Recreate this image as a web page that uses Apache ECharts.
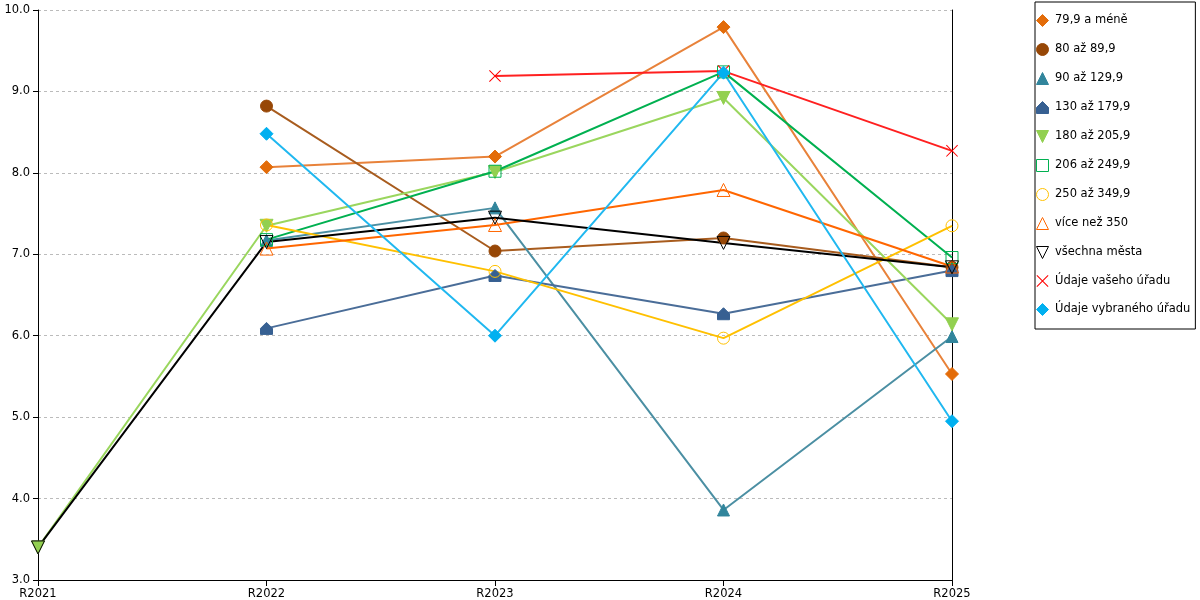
<!DOCTYPE html>
<html>
<head>
<meta charset="utf-8">
<script src="https://cdn.jsdelivr.net/npm/echarts@6/dist/echarts.min.js"></script>
<style>
    html, body {margin: 0; padding: 0; background: #fff;}
    #main {width: 1200px; height: 600px;}
</style>
</head>
<body>
<div id="main"></div>
<script>
// kategorie na ose x
const roky = ['R2021', 'R2022', 'R2023', 'R2024', 'R2025'];

// hodnoty jednotlivých skupin
const s799 = [null, 8.07, 8.20, 9.79, 5.53];
const s80 = [null, 8.82, 7.04, 7.20, 6.84];
const s90 = [null, 7.17, 7.57, 3.86, 5.99];
const s130 = [null, 6.09, 6.74, 6.27, 6.80];
const s180 = [3.40, 7.35, 8.01, 8.92, 6.14];
const s206 = [null, 7.18, 8.02, 9.24, 6.96];
const s250 = [null, 7.36, 6.79, 5.97, 7.35];
const s350 = [null, 7.07, 7.36, 7.79, 6.85];
const sVse = [3.40, 7.15, 7.45, 7.14, 6.84];
const sVas = [null, null, 9.19, 9.25, 8.27];
const sVyb = [null, 8.48, 6.00, 9.23, 4.95];

const triDown = 'path://M0,0 L10,0 L5,9 Z';
const house = 'path://M5,0 L10,5 L10,10 L0,10 L0,5 Z';
// křížek jako vyplněný tvar, aby měl barvu i v legendě
const cross = 'path://M0,0.6 L0.6,0 L5,4.4 L9.4,0 L10,0.6 L5.6,5 L10,9.4 L9.4,10 L5,5.6 L0.6,10 L0,9.4 L4.4,5 Z';
const fnt = 'DejaVu Sans';

function serie(name, data, color, symbol, size, opts) {
    let s = {
        name: name,
        type: 'line',
        data: data,
        symbol: symbol,
        symbolSize: size,
        legendIcon: symbol,
        showAllSymbol: true,
        lineStyle: {color: color, width: 2},
        itemStyle: {color: color, borderColor: color, borderWidth: 1},
        emphasis: {disabled: true}
    };
    return Object.assign(s, opts || {});
}

// prázdné značky bez výplně
const hollow = function (c) {
    return {itemStyle: {color: 'transparent', borderColor: c, borderWidth: 1}};
};

let myChart = echarts.init(document.getElementById('main'));
myChart.setOption({
    animation: false,
    textStyle: {fontFamily: fnt, fontSize: 11.5, color: '#000'},
    grid: {left: 38, right: 248, top: 10, bottom: 20},
    legend: {
        orient: 'vertical',
        left: 1035,
        top: 2,
        padding: [12, 5, 13, 0],
        itemWidth: 15,
        itemHeight: 15,
        itemGap: 16,
        borderColor: '#000',
        borderWidth: 1,
        itemStyle: {borderWidth: 1},
        lineStyle: {width: 0, opacity: 0},
        textStyle: {fontFamily: fnt, fontSize: 11.5, color: '#000'}
    },
    xAxis: {
        type: 'category',
        data: roky,
        boundaryGap: false,
        axisLine: {lineStyle: {color: '#000'}},
        axisTick: {show: true, length: 6, lineStyle: {color: '#000'}},
        minorTick: {show: true, splitNumber: 2, length: 6, lineStyle: {color: '#000'}},
        axisLabel: {color: '#000', fontFamily: fnt, fontSize: 11.5, margin: 8}
    },
    yAxis: [
        {
            type: 'value',
            min: 3,
            max: 10,
            interval: 1,
            axisLine: {show: true, lineStyle: {color: '#000'}},
            axisTick: {show: true, length: 5, lineStyle: {color: '#000'}},
            axisLabel: {
                color: '#000', fontFamily: fnt, fontSize: 11.5, margin: 8,
                formatter: function (v) { return v.toFixed(1); }
            },
            splitLine: {lineStyle: {color: '#bbb', type: [3, 3]}}
        },
        {
            type: 'value',
            position: 'right',
            min: 3,
            max: 10,
            interval: 1,
            axisLine: {show: true, lineStyle: {color: '#000'}},
            axisTick: {show: false},
            axisLabel: {show: false},
            splitLine: {show: false}
        }
    ],
    series: [
        serie('79,9 a méně', s799, '#e36c09', 'diamond', 13, {lineStyle: {color: '#e8823a', width: 2}}),
        serie('80 až 89,9', s80, '#974706', 'circle', 12, {lineStyle: {color: '#a85c1e', width: 2}}),
        serie('90 až 129,9', s90, '#31859c', 'triangle', 12, {lineStyle: {color: '#4b8fa3', width: 2}}),
        serie('130 až 179,9', s130, '#376092', house, 12, {lineStyle: {color: '#4a6d98', width: 2}}),
        serie('180 až 205,9', s180, '#92d050', triDown, 13, {lineStyle: {color: '#9ad65e', width: 2}}),
        serie('206 až 249,9', s206, '#00b050', 'rect', 12, hollow('#00b050')),
        serie('250 až 349,9', s250, '#ffc000', 'circle', 12, hollow('#ffc000')),
        serie('více než 350', s350, '#ff6600', 'triangle', 13, hollow('#ff6600')),
        serie('všechna města', sVse, '#000', triDown, 13, hollow('#000')),
        serie('Údaje vašeho úřadu', sVas, '#ff0000', cross, 12, {
            lineStyle: {color: '#ff2020', width: 2},
            itemStyle: {color: '#ff0000', borderWidth: 0}
        }),
        serie('Údaje vybraného úřadu', sVyb, '#00b0f0', 'diamond', 13, {lineStyle: {color: '#20b8f0', width: 2}})
    ]
});
</script>
</body>
</html>
